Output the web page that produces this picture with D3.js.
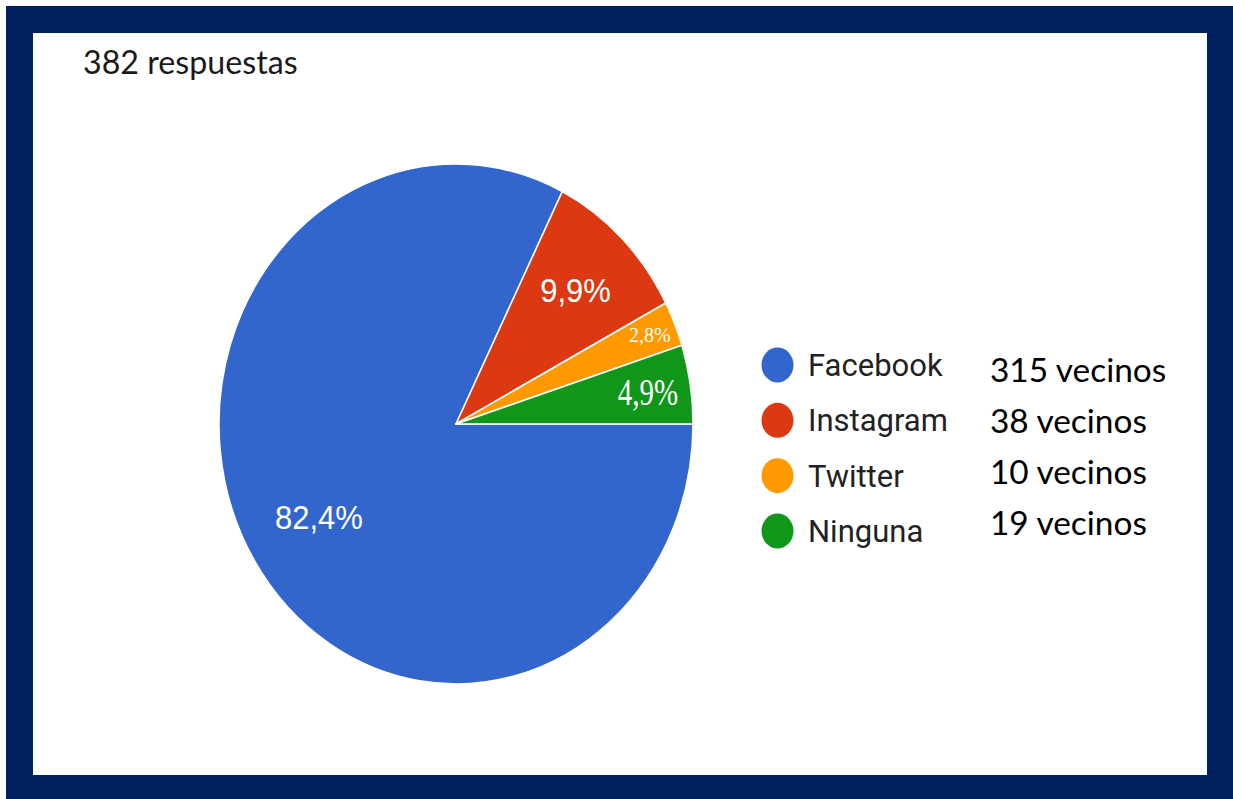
<!DOCTYPE html>
<html>
<head>
<meta charset="utf-8">
<script src="https://cdn.jsdelivr.net/npm/d3@7"></script>
<style>
  html, body { margin: 0; padding: 0; background: #ffffff; }
  svg { display: block; }
</style>
</head>
<body>
<svg id="chart" width="1233" height="799"></svg>
<script>
// ---- data ----
const title = "382 respuestas";
const categories = ["Facebook", "Instagram", "Twitter", "Ninguna"];
const percentages = [82.4, 9.9, 2.8, 4.9];
const counts = [315, 38, 10, 19];
const countSuffix = " vecinos";

// ---- style / layout ----
const colors = ["#3366CC", "#DC3912", "#FF9900", "#109618"];
const labelRadiusFactor = [0.68, 0.72, 0.886, 0.82];
const labelFont = [
  { family: "'Liberation Sans', Arial, sans-serif", size: 31, sy: 1.1 },
  { family: "'Liberation Sans', Arial, sans-serif", size: 31, sy: 1.1 },
  { family: "'Liberation Serif', 'Times New Roman', serif", size: 20, sy: 1.0 },
  { family: "'Liberation Serif', 'Times New Roman', serif", size: 29, sy: 1.32 }
];

const svg = d3.select("#chart");
const W = 1233, H = 799;

// frame
svg.append("rect").attr("x", 6).attr("y", 6).attr("width", W - 6).attr("height", H - 6)
  .attr("fill", "#002060");
svg.append("rect").attr("x", 33).attr("y", 33).attr("width", 1207 - 33).attr("height", 775 - 33)
  .attr("fill", "#ffffff");

// title
svg.append("text")
  .attr("x", 83).attr("y", 74)
  .attr("font-family", "Lato, 'Open Sans', sans-serif")
  .attr("font-size", 32.2)
  .attr("fill", "#1a1a1a")
  .text(title);

// pie
const cx = 456, cy = 424, rx = 237, ry = 260;
const pie = d3.pie().sort(null)
  .startAngle(Math.PI / 2).endAngle(Math.PI / 2 + 2 * Math.PI);
const arcs = pie(percentages);
const arc = d3.arc().innerRadius(0).outerRadius(rx);

const g = svg.append("g").attr("transform", `translate(${cx},${cy}) scale(1,${ry / rx})`);
g.selectAll("path.slice").data(arcs).enter().append("path")
  .attr("class", "slice")
  .attr("d", arc)
  .attr("fill", (d, i) => colors[i])
  .attr("stroke", "#ffffff")
  .attr("stroke-width", 1.5)
  .attr("stroke-linejoin", "round");

const fmt = v => d3.format(".1f")(v).replace(".", ",") + "%";
arcs.forEach((d, i) => {
  const r = rx * labelRadiusFactor[i];
  const c = d3.arc().innerRadius(r).outerRadius(r).centroid(d);
  const f = labelFont[i];
  const px = cx + c[0];
  const py = cy + c[1] * (ry / rx);
  svg.append("text")
    .attr("transform", `translate(${px},${py}) scale(1,${f.sy})`)
    .attr("text-anchor", "middle")
    .attr("dy", "0.35em")
    .attr("font-family", f.family)
    .attr("font-size", f.size)
    .attr("fill", "#ffffff")
    .text(fmt(percentages[i]));
});

// legend
const legendY = d3.scalePoint().domain(categories).range([365, 531]);
const countY = d3.scalePoint().domain(categories).range([382, 535]);
const leg = svg.append("g");
categories.forEach((cat, i) => {
  const y = legendY(cat);
  leg.append("ellipse")
    .attr("cx", 777.5).attr("cy", y).attr("rx", 16).attr("ry", 17.5)
    .attr("fill", colors[i]);
  leg.append("text")
    .attr("x", 808).attr("y", y + 11)
    .attr("font-family", "Roboto, Arial, sans-serif")
    .attr("font-size", 31)
    .attr("fill", "#222222")
    .text(cat);
  leg.append("text")
    .attr("x", 990).attr("y", countY(cat))
    .attr("font-family", "Lato, 'Open Sans', sans-serif")
    .attr("font-size", 33.4)
    .attr("fill", "#000000")
    .text(counts[i] + countSuffix);
});
</script>
</body>
</html>
